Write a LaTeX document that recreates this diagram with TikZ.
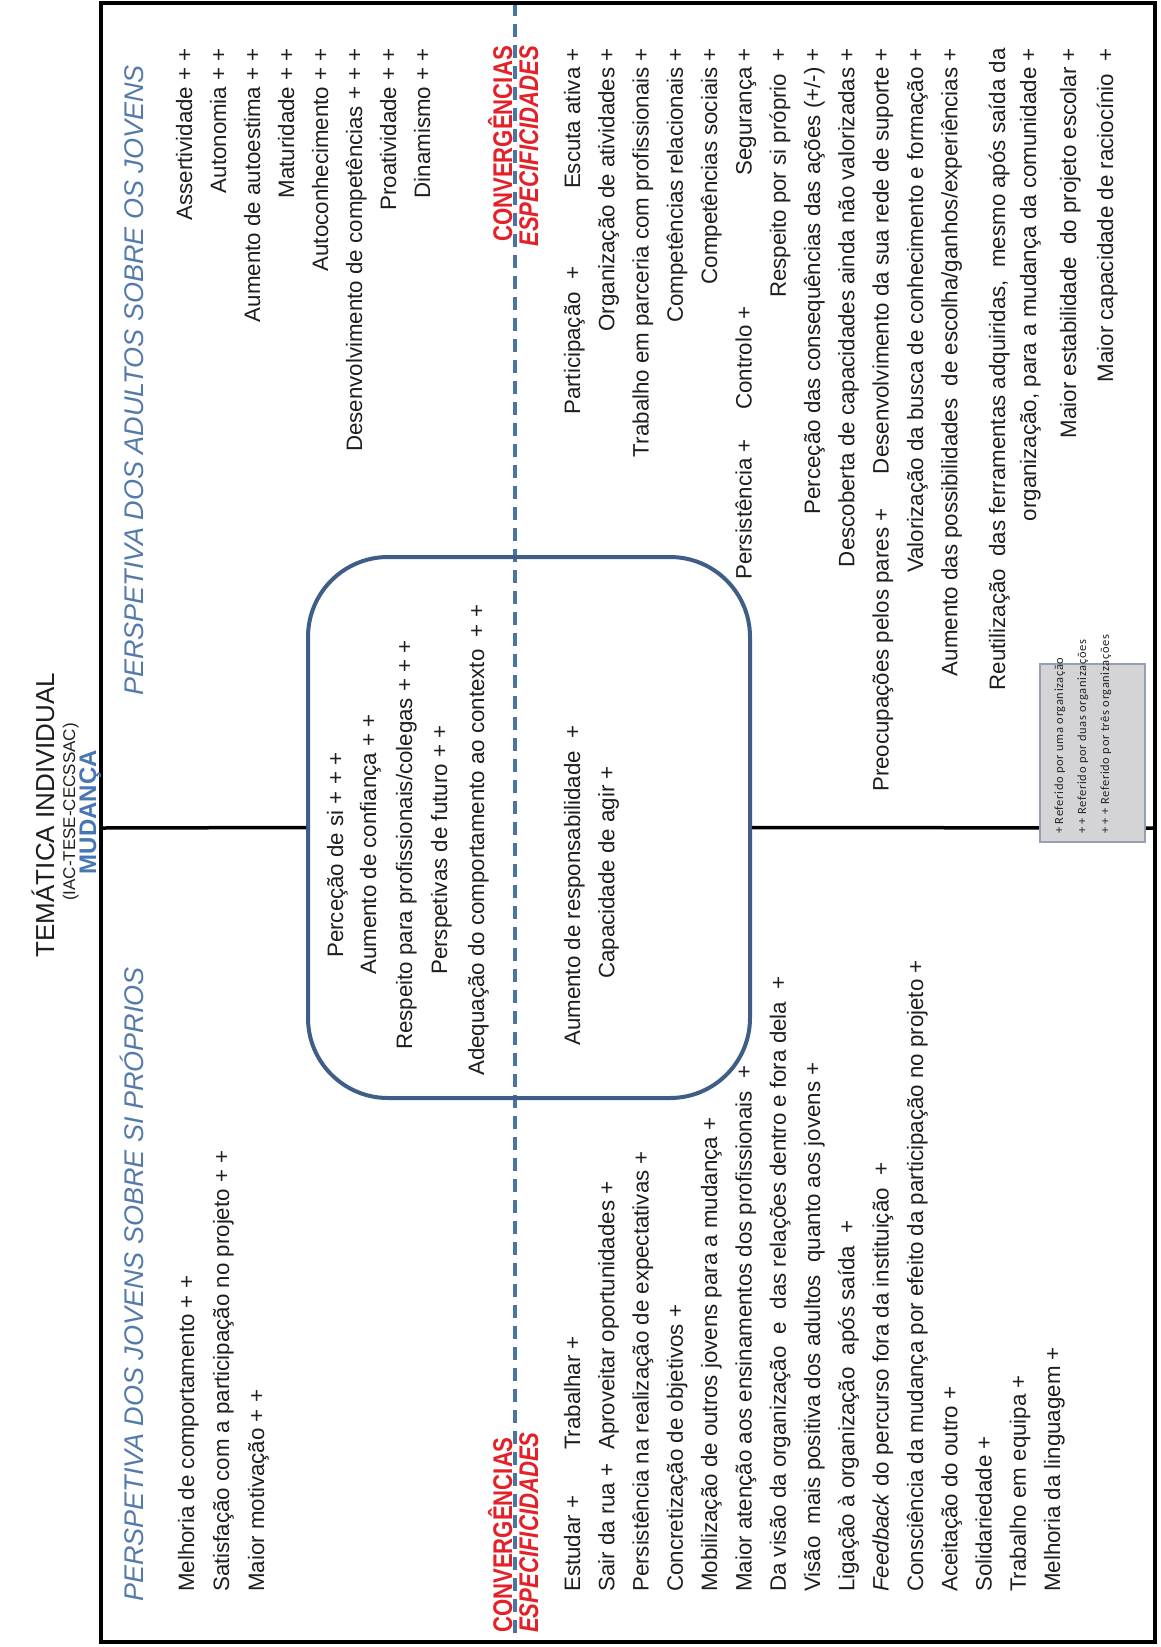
\documentclass[tikz,border=0pt]{standalone}
\usepackage{fontspec}
\setmainfont{Liberation Sans}
\newfontfamily\condfont{Liberation Sans}[FakeStretch=0.82]
\newfontfamily\legendfont{Carlito}[LetterSpace=5]
\definecolor{txtcol}{RGB}{30,30,30}
\definecolor{headblue}{RGB}{84,122,170}
\definecolor{mudblue}{RGB}{70,118,180}
\definecolor{convred}{RGB}{228,32,40}
\definecolor{dashblue}{RGB}{74,116,166}
\definecolor{boxblue}{RGB}{62,94,136}
\definecolor{leggray}{RGB}{212,212,214}
\definecolor{legedge}{RGB}{150,160,178}
\tikzset{
  txt/.style={rotate=90, inner sep=0pt, text=txtcol, font=\fontsize{22.3}{22.3}\selectfont},
  lft/.style={txt, anchor=base west},
  rgt/.style={txt, anchor=base east},
  head/.style={rotate=90, inner sep=0pt, anchor=base west, text=headblue,
    font=\fontsize{27}{27}\selectfont\itshape},
  conv/.style={rotate=90, inner sep=0pt, text=convred,
    font=\fontsize{27}{27}\condfont\bfseries},
  espec/.style={conv, font=\fontsize{27}{27}\condfont\bfseries\itshape},
  leg/.style={rotate=90, inner sep=0pt, anchor=base west, text=black!85,
    font=\fontsize{12.5}{12.5}\legendfont},
}
\begin{document}
\begin{tikzpicture}[x=1pt,y=-1pt]
\useasboundingbox (0,0) rectangle (1160,1647);
\fill[white] (0,0) rectangle (1160,1647);

% frame, quadrant divider and convergence line
\coordinate (fTL) at (101,3);
\coordinate (fBR) at (1155,1642);
\coordinate (midL) at (101,828);
\coordinate (midR) at (1155,828);
\coordinate (dTop) at (515,3);
\coordinate (dBot) at (515,1642);

\draw[dashblue, line width=4pt, dash pattern=on 13pt off 8pt] (dTop) -- (dBot);
\node[draw=boxblue, line width=4pt, rounded corners=80pt, minimum width=442pt,
      minimum height=541pt, inner sep=0pt] (box) at (529,827.5) {};
\draw[line width=3.5pt] (midL) -- (box.west);
\draw[line width=3.5pt] (box.east) -- (midR);
\draw[line width=4pt] (fTL) rectangle (fBR);

% title
\node[rotate=90, anchor=base, inner sep=0pt, font=\fontsize{26}{26}\selectfont, text=txtcol]
  (title) at (54,815) {TEMÁTICA INDIVIDUAL};
\node[rotate=90, anchor=base, inner sep=0pt, font=\fontsize{17}{17}\selectfont, text=txtcol]
  (code) at (75,812) {(IAC-TESE-CECSSAC)};
\node[rotate=90, anchor=base, inner sep=0pt, font=\fontsize{24}{24}\selectfont\bfseries, text=mudblue]
  (mud) at (96,812) {MUDANÇA};

% headings
\node[head] (hAdult) at (143,696) {PERSPETIVA DOS ADULTOS SOBRE OS JOVENS};
\node[head] (hYouth) at (143,1602) {PERSPETIVA DOS JOVENS SOBRE SI PRÓPRIOS};

% adults' view, upper part
\node[rgt] (a1) at (192,48) {Assertividade + +};
\node[rgt] (a2) at (226,48) {Autonomia + +};
\node[rgt] (a3) at (260,48) {Aumento de autoestima + +};
\node[rgt] (a4) at (294,48) {Maturidade + +};
\node[rgt] (a5) at (328,48) {Autoconhecimento + +};
\node[rgt] (a6) at (362,48) {Desenvolvimento de competências + + +};
\node[rgt] (a7) at (396,48) {Proatividade + +};
\node[rgt] (a8) at (430,48) {Dinamismo + +};

% youth view, upper part
\node[lft] (y1) at (194,1592) {Melhoria de comportamento + +};
\node[lft] (y2) at (229,1592) {Satisfação com a participação no projeto + +};
\node[lft] (y3) at (264,1592) {Maior motivação + +};

% convergence / specificity labels
\node[conv, anchor=base east] (convA) at (512,46) {CONVERGÊNCIAS};
\node[espec, anchor=base east] (espA) at (538,46) {ESPECIFICIDADES};
\node[conv, anchor=base west] (convY) at (512,1633) {CONVERGÊNCIAS};
\node[espec, anchor=base west] (espY) at (538,1633) {ESPECIFICIDADES};

% shared items in the centre
\node[lft] (c1) at (343,958) {Perceção de si + + +};
\node[lft] (c2) at (376,975) {Aumento de confiança + +};
\node[lft] (c3) at (412,1050) {Respeito para profissionais/colegas + + +};
\node[lft] (c4) at (447,975) {Perspetivas de futuro + +};
\node[lft] (c5) at (484,1076) {Adequação do comportamento ao contexto \ + +};
\node[lft] (c6) at (580,1046) {Aumento de responsabilidade \ +};
\node[lft] (c7) at (614.3,979) {Capacidade de agir +};

% adults' view, lower part
\node[lft] (b1a) at (580,415) {Participação \ +};
\node[rgt] (b1b) at (580,48) {Escuta ativa +};
\node[rgt] (b2) at (614.3,48) {Organização de atividades +};
\node[rgt] (b3) at (648.6,48) {Trabalho em parceria com profissionais +};
\node[rgt] (b4) at (682.9,48) {Competências relacionais +};
\node[rgt] (b5) at (717.2,48) {Competências sociais +};
\node[lft] (b6a) at (751.5,580) {Persistência +};
\node[lft] (b6b) at (751.5,410) {Controlo +};
\node[rgt] (b6c) at (751.5,48) {Segurança +};
\node[rgt] (b7) at (785.8,48) {Respeito por si próprio \ +};
\node[rgt] (b8) at (820.1,48) {Perceção das consequências das ações (+/-) +};
\node[rgt] (b9) at (854.4,48) {Descoberta de capacidades ainda não valorizadas +};
\node[lft] (b10a) at (888.7,792) {Preocupações pelos pares +};
\node[rgt] (b10b) at (888.7,48) {Desenvolvimento da sua rede de suporte +};
\node[rgt] (b11) at (923,48) {Valorização da busca de conhecimento e formação +};
\node[rgt] (b12) at (957.3,48) {Aumento das possibilidades \ de escolha/ganhos/experiências +};
\node[rgt] (b13) at (1005,48) {Reutilização \ das ferramentas adquiridas, \ mesmo após saída da};
\node[rgt] (b14) at (1036,48) {organização, para a mudança da comunidade +};
\node[rgt] (b15) at (1076,48) {Maior estabilidade \ do projeto escolar +};
\node[rgt] (b16) at (1113,48) {Maior capacidade de raciocínio \ +};

% youth view, lower part
\node[lft] (j1a) at (580,1592) {Estudar +};
\node[lft] (j1b) at (580,1450) {Trabalhar +};
\node[lft] (j2a) at (614.3,1592) {Sair da rua +};
\node[lft] (j2b) at (614.3,1450) {Aproveitar oportunidades +};
\node[lft] (j3) at (648.6,1592) {Persistência na realização de expectativas +};
\node[lft] (j4) at (682.9,1592) {Concretização de objetivos +};
\node[lft] (j5) at (717.2,1592) {Mobilização de outros jovens para a mudança +};
\node[lft] (j6) at (751.5,1592) {Maior atenção aos ensinamentos dos profissionais \ +};
\node[lft] (j7) at (785.8,1592) {Da visão da organização \ e \ das relações dentro e fora dela \ +};
\node[lft] (j8) at (820.1,1592) {Visão \ mais positiva dos adultos \ quanto aos jovens +};
\node[lft] (j9) at (854.4,1592) {Ligação à organização \ após saída \ +};
\node[lft] (j10) at (888.7,1592) {\textit{Feedback} do percurso fora da instituição \ +};
\node[lft] (j11) at (923,1592) {Consciência da mudança por efeito da participação no projeto +};
\node[lft] (j12) at (957.3,1592) {Aceitação do outro +};
\node[lft] (j13) at (991.6,1592) {Solidariedade +};
\node[lft] (j14) at (1025.9,1592) {Trabalho em equipa +};
\node[lft] (j15) at (1060.2,1592) {Melhoria da linguagem +};

% legend
\node[fill=leggray, draw=legedge, line width=1.2pt, minimum width=105pt,
      minimum height=178pt, inner sep=0pt] (legend) at (1092.5,753) {};
\node[leg] (l1) at (1063,834) {+ Referido por uma organização};
\node[leg] (l2) at (1086,834) {+ + Referido por duas organizações};
\node[leg] (l3) at (1109,834) {+ + + Referido por três organizações};
\end{tikzpicture}
\end{document}
